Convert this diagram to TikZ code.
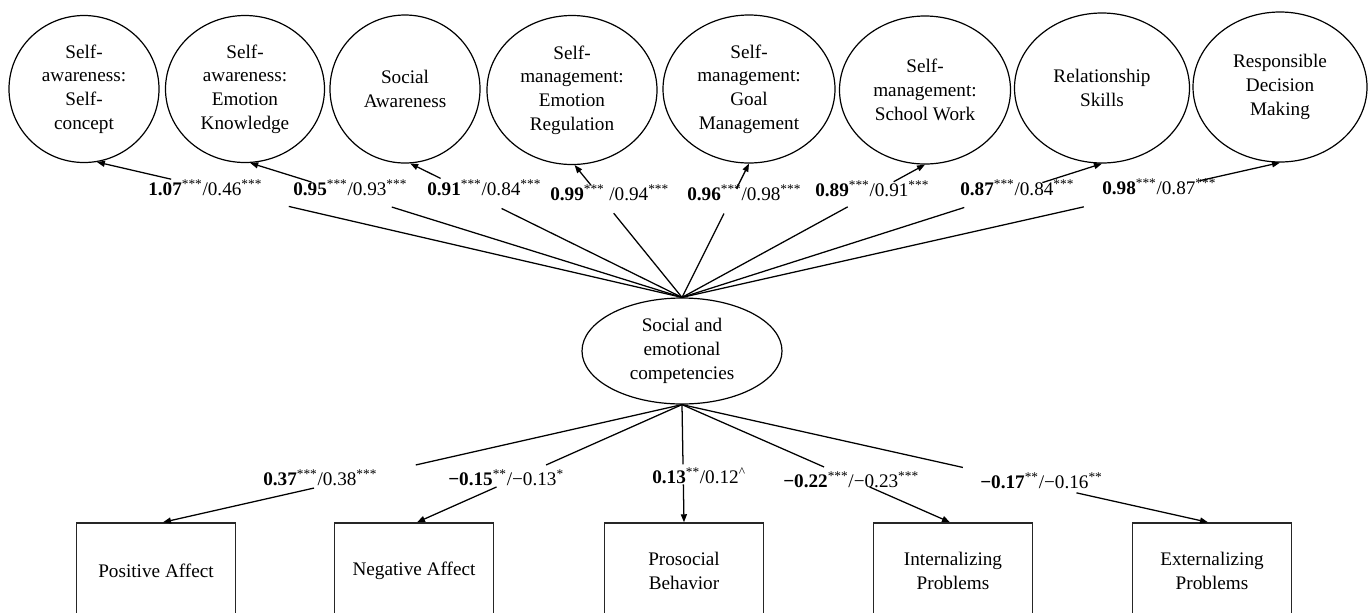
\documentclass[tikz,border=0pt]{standalone}
\usepackage{fontspec}
\setmainfont{Liberation Serif}
\usetikzlibrary{arrows.meta,shapes.geometric,calc}
\newcommand{\sig}[1]{\textsuperscript{#1}}
\begin{document}
\begin{tikzpicture}[x=0.75pt,y=-0.75pt,
  txt/.style={font=\fontsize{14.4}{17.8}\selectfont},
  lat/.style={txt,draw,ellipse,line width=0.9pt,inner sep=0pt,align=center},
  obs/.style={txt,draw,draw=black!85,rectangle,line width=1.1pt,inner sep=0pt,align=center,minimum width=119.25pt,minimum height=72pt},
  lab/.style={txt,anchor=base west,inner sep=0pt},
  conn/.style={line width=0.95pt},
  arr/.style={line width=0.95pt,-{Triangle[length=6pt,width=4.5pt]}}
]
\clip (0,0) rectangle (1371,612);
% top latent factors
\node[lat,minimum width=112.5pt,minimum height=110.25pt] (e1) at (84,89) {Self-\\awareness:\\Self-\\concept};
\node[lat,minimum width=119.25pt,minimum height=110.25pt] (e2) at (245,89) {Self-\\awareness:\\Emotion\\Knowledge};
\node[lat,minimum width=112.5pt,minimum height=111pt] (e3) at (405,89) {Social\\Awareness};
\node[lat,minimum width=127.5pt,minimum height=111.75pt] (e4) at (572,90) {Self-\\management:\\Emotion\\Regulation};
\node[lat,minimum width=129pt,minimum height=111pt] (e5) at (749,89) {Self-\\management:\\Goal\\Management};
\node[lat,minimum width=128.25pt,minimum height=111pt] (e6) at (925,90) {Self-\\management:\\School Work};
\node[lat,minimum width=131.25pt,minimum height=112.5pt] (e7) at (1102,88) {Relationship\\Skills};
\node[lat,minimum width=130.5pt,minimum height=112.5pt] (e8) at (1280,87) {Responsible\\Decision\\Making};
% central factor
\node[lat,minimum width=150pt,minimum height=79.5pt] (sec) at (682,351) {Social and\\emotional\\competencies};
% outcomes
\node[obs] (b1) at (156,571) {Positive Affect};
\node[obs] (b2) at (414,571) {Negative Affect};
\node[obs] (b3) at (684,571) {Prosocial\\Behavior};
\node[obs] (b4) at (953,571) {Internalizing\\Problems};
\node[obs] (b5) at (1212,571) {Externalizing\\Problems};
% arrow targets
\coordinate (t1) at (e1.-80);
\coordinate (t2) at (e2.-86);
\coordinate (t3) at (e3.-86);
\coordinate (t4) at (e4.-88);
\coordinate (t5) at (e5.south);
\coordinate (t6) at (e6.south);
\coordinate (t7) at (e7.south);
\coordinate (t8) at (e8.south);
\coordinate (u1) at ($(b1.north)+(7,0)$);
\coordinate (u2) at ($(b2.north)+(3,0)$);
\coordinate (u3) at (b3.north);
\coordinate (u4) at ($(b4.north)+(-3,0)$);
\coordinate (u5) at ($(b5.north)+(-4,0)$);
% top loadings (split around labels)
\foreach \t/\lo/\hi in {t1/0.672/0.873, t2/0.672/0.858, t3/0.664/0.888, t4/0.636/0.848,
                        t5/0.627/0.813, t6/0.682/0.871, t7/0.672/0.858, t8/0.672/0.866}{
  \draw[conn] (sec.north) -- ($(sec.north)!\lo!(\t)$);
  \draw[arr] ($(sec.north)!\hi!(\t)$) -- (\t);
}
% bottom paths
\foreach \t/\lo/\hi in {u1/0.513/0.709, u2/0.513/0.700, u3/0.508/0.678, u4/0.530/0.700, u5/0.534/0.750}{
  \draw[conn] (sec.south) -- ($(sec.south)!\lo!(\t)$);
  \draw[arr] ($(sec.south)!\hi!(\t)$) -- (\t);
}
% labels top
\node[lab] (l1) at (148,195) {\textbf{1.07}\sig{***}/0.46\sig{***}};
\node[lab] (l2) at (293,195) {\textbf{0.95}\sig{***}/0.93\sig{***}};
\node[lab] (l3) at (427,195) {\textbf{0.91}\sig{***}/0.84\sig{***}};
\node[lab] (l4) at (550,200) {\textbf{0.99}\sig{***} /0.94\sig{***}};
\node[lab] (l5) at (687,200) {\textbf{0.96}\sig{***}/0.98\sig{***}};
\node[lab] (l6) at (815,196) {\textbf{0.89}\sig{***}/0.91\sig{***}};
\node[lab] (l7) at (960,195) {\textbf{0.87}\sig{***}/0.84\sig{***}};
\node[lab] (l8) at (1102,194) {\textbf{0.98}\sig{***}/0.87\sig{***}};
% labels bottom
\node[lab] (m1) at (263,485) {\textbf{0.37}\sig{***}/0.38\sig{***}};
\node[lab] (m2) at (448,485) {\textbf{−0.15}\sig{**}/−0.13\sig{*}};
\node[lab] (m3) at (652,483) {\textbf{0.13}\sig{**}/0.12\sig{\textasciicircum}};
\node[lab] (m4) at (783,487) {\textbf{−0.22}\sig{***}/−0.23\sig{***}};
\node[lab] (m5) at (980,488) {\textbf{−0.17}\sig{**}/−0.16\sig{**}};
\end{tikzpicture}
\end{document}
